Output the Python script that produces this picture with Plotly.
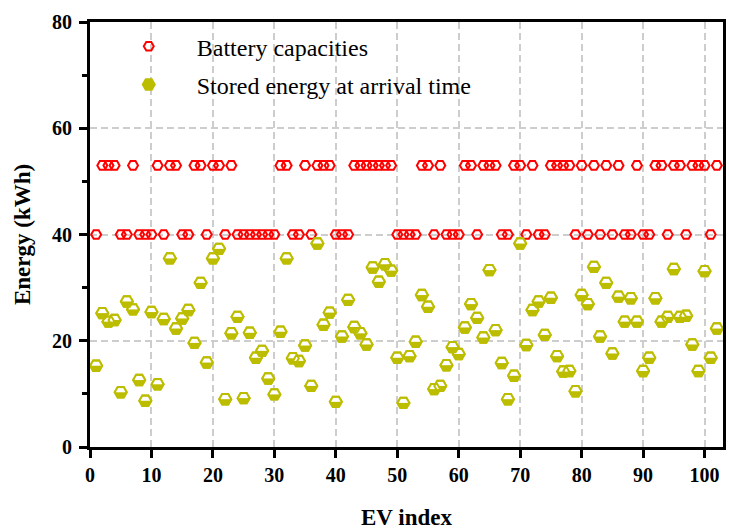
import plotly.graph_objects as go

# ---- data ---------------------------------------------------------------
ev_index = list(range(1, 103))

battery_capacity = [
    40, 53, 53, 53, 40, 40, 53, 40, 40, 40,
    53, 40, 53, 53, 40, 40, 53, 53, 40, 53,
    53, 40, 53, 40, 40, 40, 40, 40, 40, 40,
    53, 53, 40, 40, 53, 40, 53, 53, 53, 40,
    40, 40, 53, 53, 53, 53, 53, 53, 53, 40,
    40, 40, 40, 53, 53, 40, 53, 40, 40, 40,
    53, 53, 40, 53, 53, 53, 40, 40, 53, 53,
    40, 53, 40, 40, 53, 53, 53, 53, 40, 53,
    40, 53, 40, 53, 40, 53, 40, 40, 53, 40,
    40, 53, 53, 40, 53, 53, 40, 53, 53, 53,
    40, 53,
]

stored_energy = [
    15.3, 25.2, 23.6, 23.9, 10.3, 27.4, 25.9, 12.6, 8.7, 25.4,
    11.8, 24.1, 35.5, 22.3, 24.2, 25.8, 19.6, 30.9, 15.9, 35.5,
    37.3, 9.0, 21.4, 24.5, 9.2, 21.5, 16.8, 18.1, 12.9, 9.9,
    21.7, 35.5, 16.7, 16.2, 19.1, 11.5, 38.3, 23.0, 25.3, 8.5,
    20.8, 27.7, 22.6, 21.4, 19.3, 33.8, 31.1, 34.4, 33.2, 16.8,
    8.3, 17.1, 19.8, 28.6, 26.4, 10.9, 11.5, 15.4, 18.8, 17.5,
    22.5, 26.9, 24.3, 20.6, 33.3, 22.0, 15.8, 9.0, 13.4, 38.3,
    19.2, 25.8, 27.4, 21.1, 28.1, 17.1, 14.2, 14.3, 10.5, 28.6,
    26.9, 33.9, 20.8, 30.9, 17.6, 28.3, 23.6, 28.0, 23.6, 14.3,
    16.8, 28.0, 23.6, 24.5, 33.5, 24.5, 24.7, 19.3, 14.3, 33.1,
    16.8, 22.3,
]

x_ticks = [0, 10, 20, 30, 40, 50, 60, 70, 80, 90, 100]
y_ticks = [0, 20, 40, 60, 80]

# ---- styling ------------------------------------------------------------
W, H = 729, 532
MARGIN = dict(l=90, r=3, t=22, b=85)
X_RANGE = [0, 103]
Y_RANGE = [0, 80]
SERIF = "Liberation Serif, Times New Roman, serif"
RED = "#FF0000"
OLIVE = "#BDBD00"
GRID = "#CDCDCD"

# data units per screen pixel on the y axis (for the half-filled marker)
plot_h = H - MARGIN["t"] - MARGIN["b"]
y_per_px = (Y_RANGE[1] - Y_RANGE[0]) / plot_h
Y_MARK = 12          # hexagon size of the stored-energy markers
Y_EDGE = 2           # outline width
half_h = (Y_MARK / 2) * 0.866 - Y_EDGE / 2   # inner half height in px
half_w = Y_MARK / 2 - Y_EDGE / 2 / 0.866     # inner half width in px
white_lift = half_h / 2 * y_per_px

fig = go.Figure()

fig.add_trace(go.Scatter(
    x=ev_index, y=battery_capacity, mode="markers",
    name="Battery capacities", legendgroup="cap",
    marker=dict(symbol="hexagon2-open", size=10, color=RED,
                line=dict(width=2)),
))

# stored energy: olive hexagon with a white upper half
fig.add_trace(go.Scatter(
    x=ev_index, y=stored_energy, mode="markers",
    name="Stored energy at arrival time", legendgroup="soc",
    marker=dict(symbol="hexagon2", size=Y_MARK, color=OLIVE,
                line=dict(color=OLIVE, width=Y_EDGE)),
))
fig.add_trace(go.Scatter(
    x=ev_index, y=[v + white_lift for v in stored_energy], mode="markers",
    showlegend=False, hoverinfo="skip", legendgroup="soc",
    marker=dict(symbol="line-ew", size=2 * half_w / 1.4142,
                line=dict(color="white", width=half_h)),
))
fig.add_trace(go.Scatter(
    x=ev_index, y=stored_energy, mode="markers",
    showlegend=False, hoverinfo="skip", legendgroup="soc",
    marker=dict(symbol="hexagon2-open", size=Y_MARK, color=OLIVE,
                line=dict(width=Y_EDGE)),
))

axis_common = dict(
    showline=True, linecolor="black", linewidth=3, mirror=True,
    ticks="outside", ticklen=8, tickwidth=3, tickcolor="black",
    showgrid=True, gridcolor=GRID, gridwidth=2, griddash="7px,4px",
    zeroline=False,
    tickfont=dict(family=SERIF, size=20, color="black", weight="bold"),
)

fig.update_xaxes(
    range=X_RANGE, tickvals=x_ticks, ticktext=[str(t) for t in x_ticks],
    title=dict(text="EV index", standoff=24,
               font=dict(family=SERIF, size=23, color="black", weight="bold")),
    **axis_common,
)
fig.update_yaxes(
    range=Y_RANGE, tickvals=y_ticks, ticktext=[str(t) for t in y_ticks],
    minor=dict(tickvals=[10, 30, 50, 70], ticks="outside", ticklen=5,
               tickwidth=3, tickcolor="black", showgrid=False),
    ticklabelstandoff=3,
    title=dict(text="Energy (kWh)", standoff=15,
               font=dict(family=SERIF, size=23, color="black", weight="bold")),
    **axis_common,
)

fig.update_layout(
    width=W, height=H, margin=MARGIN,
    paper_bgcolor="white", plot_bgcolor="white",
    showlegend=True,
    legend=dict(
        x=0.017, y=0.995, xanchor="left", yanchor="top",
        bgcolor="rgba(255,255,255,0)", borderwidth=0,
        itemwidth=86, tracegroupgap=4, traceorder="grouped",
        font=dict(family=SERIF, size=24, color="black"),
    ),
)

fig.write_html("out.html")
